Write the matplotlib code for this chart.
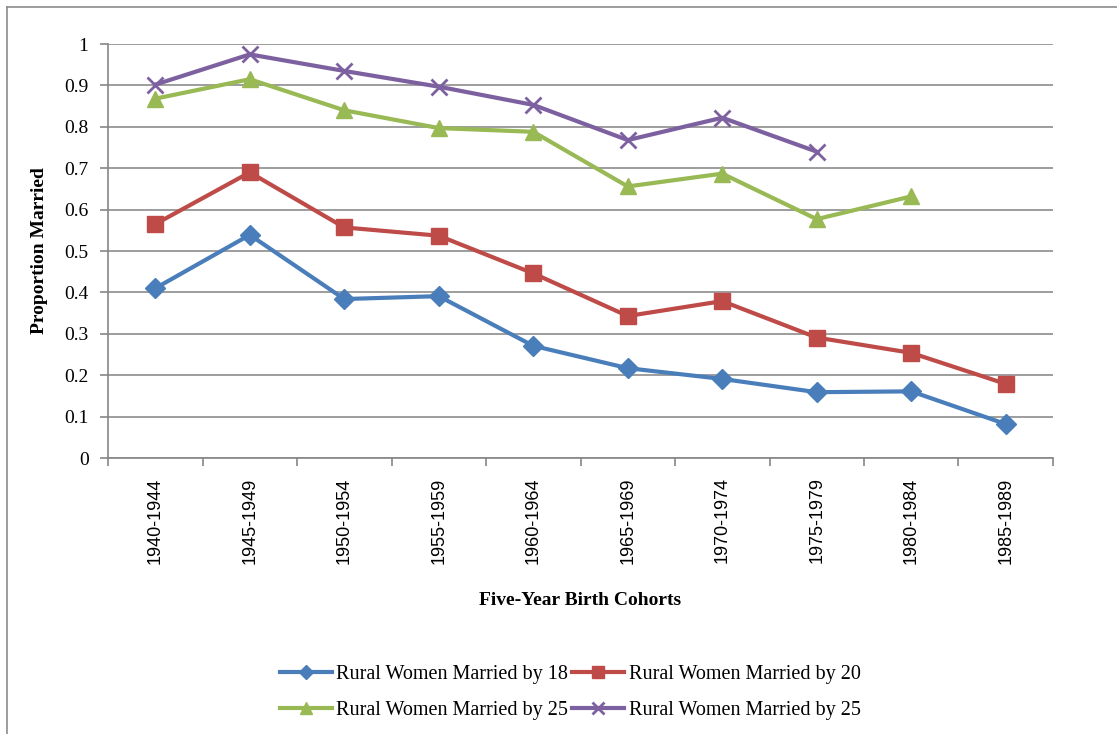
import numpy as np
import matplotlib.pyplot as plt
from matplotlib.lines import Line2D

cohorts = ['1940-1944', '1945-1949', '1950-1954', '1955-1959', '1960-1964',
           '1965-1969', '1970-1974', '1975-1979', '1980-1984', '1985-1989']
by18 = [0.41, 0.539, 0.384, 0.391, 0.271, 0.217, 0.191, 0.159, 0.161, 0.082]
by20 = [0.565, 0.69, 0.557, 0.537, 0.446, 0.343, 0.379, 0.291, 0.254, 0.179]
by25a = [0.868, 0.915, 0.84, 0.797, 0.788, 0.656, 0.687, 0.577, 0.632]
by25b = [0.902, 0.975, 0.935, 0.897, 0.853, 0.768, 0.822, 0.74]

fig = plt.figure(figsize=(11.17, 7.34), dpi=100)
ax = fig.add_axes([0.0967, 0.376, 0.846, 0.564])

# outer chart border (only left/top visible in the crop)
fig.add_artist(Line2D([7/1117, 7/1117], [0, 1 - 7/734], transform=fig.transFigure, color='#8c8c8c', lw=1.2))
fig.add_artist(Line2D([7/1117, 1], [1 - 7/734, 1 - 7/734], transform=fig.transFigure, color='#8c8c8c', lw=1.2))

x = np.arange(len(cohorts))
l18, = ax.plot(x, by18, color='#4A7EBB', lw=3, marker='D', ms=10, label='Rural Women Married by 18')
l20, = ax.plot(x, by20, color='#BE4B48', lw=3, marker='s', ms=12, label='Rural Women Married by 20')
l25a, = ax.plot(x[:len(by25a)], by25a, color='#98B954', lw=3, marker='^', ms=12, label='Rural Women Married by 25')
l25b, = ax.plot(x[:len(by25b)], by25b, color='#7D60A0', lw=3, marker='x', ms=12, mew=2, label='Rural Women Married by 25')

ax.set_xlim(-0.5, len(cohorts) - 0.5)
ax.set_ylim(0, 1)
ax.set_yticks(np.arange(0, 1.01, 0.1))
ax.set_yticklabels(['0', '0.1', '0.2', '0.3', '0.4', '0.5', '0.6', '0.7', '0.8', '0.9', '1'],
                   fontfamily='Liberation Serif', fontsize=14)
ax.set_xticks(x)
ax.set_xticklabels(cohorts, rotation=90, fontfamily='Liberation Sans', fontsize=13)
ax.set_xticks(np.arange(-0.5, len(cohorts)), minor=True)
ax.tick_params(axis='x', which='major', length=0, pad=14)
ax.tick_params(axis='x', which='minor', length=6, color='#868686', width=1.2)
ax.tick_params(axis='y', length=6, color='#868686', width=1.2, pad=8)

ax.grid(axis='y', color='#8c8c8c', lw=1.2)
ax.set_axisbelow(True)
for s in ['top', 'right']:
    ax.spines[s].set_visible(False)
for s in ['left', 'bottom']:
    ax.spines[s].set_color('#868686')
    ax.spines[s].set_linewidth(1.2)

ax.set_ylabel('Proportion Married', fontfamily='Liberation Serif', fontweight='bold', fontsize=14, labelpad=12)
ax.set_xlabel('Five-Year Birth Cohorts', fontfamily='Liberation Serif', fontweight='bold', fontsize=14, labelpad=20)

# row-major order like the original legend
ax.legend([l18, l25a, l20, l25b], [l.get_label() for l in [l18, l25a, l20, l25b]],
          loc='upper center', bbox_to_anchor=(0.489, -0.455), ncol=2, frameon=False,
          prop={'family': 'Liberation Serif', 'size': 14.5}, handlelength=2.6,
          handletextpad=0.2, columnspacing=0.2, labelspacing=0.85, markerscale=0.7)

fig.savefig('out.png', dpi=100)
